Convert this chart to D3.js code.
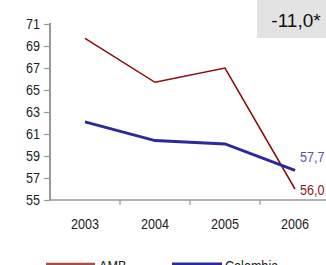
<!DOCTYPE html>
<html><head><meta charset="utf-8">
<script src="https://cdn.jsdelivr.net/npm/d3@7/dist/d3.min.js"></script>
<style>
body{margin:0;background:#fff;}
svg{display:block;}
text{font-family:"Liberation Sans",Arial,sans-serif;}
</style></head>
<body>
<svg id="c" width="326" height="265"></svg>
<script>
const years = ["2003","2004","2005","2006"];
const amb = [69.7, 65.7, 67.0, 56.0];
const colombia = [62.1, 60.4, 60.1, 57.7];
const yTicks = [55,57,59,61,63,65,67,69,71];
const seriesNames = ["AMB","Colombia"];
const badge = "-11,0*";

const SX = 0.84;
function narrow(sel){
  sel.each(function(){
    const t = d3.select(this);
    const x0 = +t.attr("x") || 0;
    t.attr("x", x0/SX).attr("transform", `scale(${SX},1)`);
  });
}

const svg = d3.select("#c");
const x = d3.scaleBand().domain(years).range([50,330]);
const y = d3.scaleLinear().domain([55,71]).range([200,24]);
const fmt = v => d3.format(".1f")(v).replace(".",",");

// badge
svg.append("rect").attr("x",257).attr("y",0).attr("width",69).attr("height",38).attr("fill","#e3e3e3");
svg.append("text").attr("x",296).attr("y",27).attr("text-anchor","middle").attr("font-size",19).attr("fill","#111").text(badge);

// y axis
const ya = svg.append("g").attr("transform","translate(50,0)")
  .call(d3.axisLeft(y).tickValues(yTicks).tickSize(6).tickPadding(4).tickFormat(d3.format("d")));
ya.select(".domain").attr("stroke","#999").attr("stroke-width",2).attr("d","M0,23V200");
ya.selectAll(".tick line").attr("stroke","#999").attr("stroke-width",1.2);
ya.selectAll(".tick text").attr("font-size",15).attr("fill","#222").attr("font-family",null).call(narrow);

// x axis
const xa = svg.append("g").attr("transform","translate(0,200)")
  .call(d3.axisBottom(x).tickSize(0).tickPadding(18));
xa.select(".domain").attr("stroke","#999").attr("stroke-width",1.5).attr("d","M50,0H330");
xa.selectAll(".tick text").attr("font-size",15).attr("fill","#222").attr("font-family",null).call(narrow);
xa.selectAll(".tick line").remove();
svg.append("g").selectAll("line").data(years.slice(1)).join("line")
  .attr("x1",d=>x(d)).attr("x2",d=>x(d)).attr("y1",200).attr("y2",205)
  .attr("stroke","#999").attr("stroke-width",1.2);

const line = d3.line().x((d,i)=>x(years[i])+x.bandwidth()/2).y(d=>y(d));
svg.append("path").datum(amb).attr("d",line).attr("fill","none").attr("stroke","#8b0a0a").attr("stroke-width",1.5);
svg.append("path").datum(colombia).attr("d",line).attr("fill","none").attr("stroke","#2a2a9c").attr("stroke-width",3);

// end labels
svg.append("text").attr("x",300).attr("y",162).attr("font-size",15).attr("fill","#5555b0").text(fmt(colombia[3])).call(narrow);
svg.append("text").attr("x",300).attr("y",195).attr("font-size",15).attr("fill","#8b1a1a").text(fmt(amb[3])).call(narrow);

// legend
const lg = [{n:seriesNames[0],c:"#b04848",w:2.5,x1:46,x2:95,tx:99},{n:seriesNames[1],c:"#2a2a9c",w:3,x1:172,x2:222,tx:225}];
lg.forEach(l=>{
  svg.append("line").attr("x1",l.x1).attr("x2",l.x2).attr("y1",264).attr("y2",264).attr("stroke",l.c).attr("stroke-width",l.w);
  svg.append("text").attr("x",l.tx).attr("y",271).attr("font-size",15).attr("fill","#222").text(l.n).call(narrow);
});
</script>
</body></html>
